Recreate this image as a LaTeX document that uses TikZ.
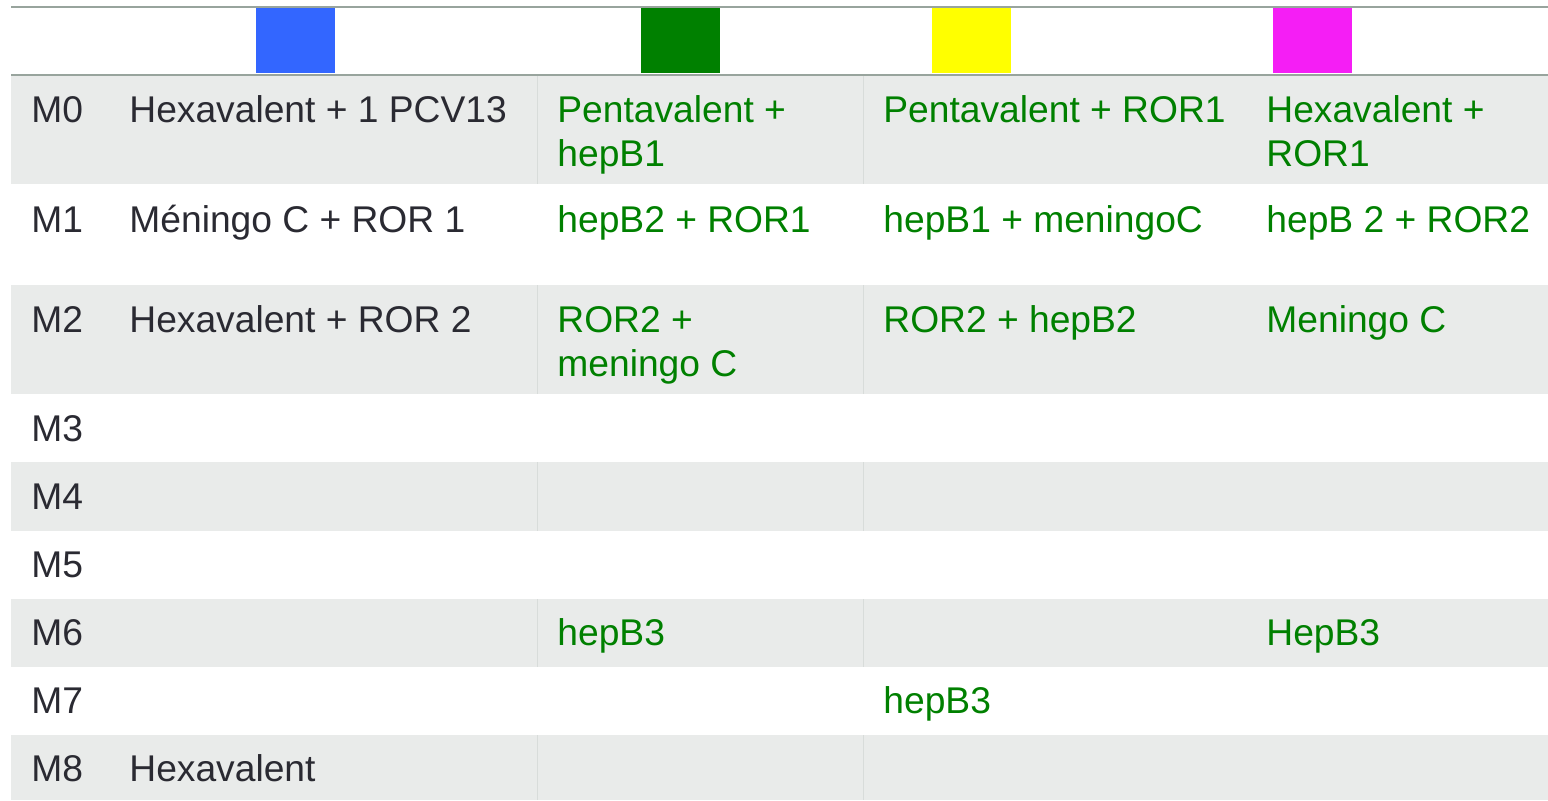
\documentclass[tikz,border=0pt]{standalone}
\usepackage{fontspec}
\setmainfont{Liberation Sans}
\definecolor{fondgris}{RGB}{233,235,234}
\definecolor{trait}{RGB}{152,164,157}
\definecolor{separ}{RGB}{216,220,218}
\definecolor{texte}{RGB}{42,42,50}
\definecolor{vert}{RGB}{0,128,0}
\definecolor{bleu}{RGB}{51,102,255}
\definecolor{jaune}{RGB}{255,255,0}
\definecolor{rose}{RGB}{245,30,245}
\begin{document}
\begin{tikzpicture}[line cap=butt,x=0.5pt,y=-0.5pt,
	txt/.style={anchor=base west,inner sep=0pt,align=left,font=\fontsize{18.6}{22}\selectfont,text=texte},
	vac/.style={txt,text=vert}]
		\useasboundingbox (0,0) rectangle (1548,800);
		
		% Lignes grises
		\fill[fondgris] (11,76) rectangle (1548,184);
		\fill[fondgris] (11,285) rectangle (1548,394);
		\fill[fondgris] (11,462) rectangle (1548,531);
		\fill[fondgris] (11,599) rectangle (1548,667);
		\fill[fondgris] (11,735) rectangle (1548,800);
		
		% Separateurs de colonnes
		\draw[separ] (537,76) -- (537,184);
		\draw[separ] (863,76) -- (863,184);
		\draw[separ] (537,285) -- (537,394);
		\draw[separ] (863,285) -- (863,394);
		\draw[separ] (537,462) -- (537,531);
		\draw[separ] (863,462) -- (863,531);
		\draw[separ] (537,599) -- (537,667);
		\draw[separ] (863,599) -- (863,667);
		\draw[separ] (537,735) -- (537,800);
		\draw[separ] (863,735) -- (863,800);
		
		% En-tete
		\draw[trait,line width=1.3pt] (11,7) -- (1548,7);
		\draw[trait,line width=1.3pt] (11,75) -- (1548,75);
		\fill[bleu] (256,8) rectangle (335,73);
		\fill[vert] (641,8) rectangle (720,73);
		\fill[jaune] (932,8) rectangle (1011,73);
		\fill[rose] (1273,8) rectangle (1352,73);
		
		% Mois
		\node[txt] (m0) at (31,122) {M0};
		\node[txt] (m1) at (31,232) {M1};
		\node[txt] (m2) at (31,332) {M2};
		\node[txt] (m3) at (31,441) {M3};
		\node[txt] (m4) at (31,509) {M4};
		\node[txt] (m5) at (31,577) {M5};
		\node[txt] (m6) at (31,645) {M6};
		\node[txt] (m7) at (31,713) {M7};
		\node[txt] (m8) at (31,781) {M8};
		
		% Premiere colonne
		\node[txt] (m0a) at (129,122) {Hexavalent + 1 PCV13};
		\node[txt] (m1a) at (129,232) {Méningo C + ROR 1};
		\node[txt] (m2a) at (129,332) {Hexavalent + ROR 2};
		\node[txt] (m8a) at (129,781) {Hexavalent};
		
		% Colonnes en vert (base = derniere ligne)
		\node[vac] (m0b) at (557,166) {Pentavalent +\\hepB1};
		\node[vac] (m0c) at (883,122) {Pentavalent + ROR1};
		\node[vac] (m0d) at (1266,166) {Hexavalent +\\ROR1};
		\node[vac] (m1b) at (557,232) {hepB2 + ROR1};
		\node[vac] (m1c) at (883,232) {hepB1 + meningoC};
		\node[vac] (m1d) at (1266,232) {hepB 2 + ROR2};
		\node[vac] (m2b) at (557,376) {ROR2 +\\meningo C};
		\node[vac] (m2c) at (883,332) {ROR2 + hepB2};
		\node[vac] (m2d) at (1266,332) {Meningo C};
		\node[vac] (m6b) at (557,645) {hepB3};
		\node[vac] (m6d) at (1266,645) {HepB3};
		\node[vac] (m7c) at (883,713) {hepB3};
	\end{tikzpicture}
\end{document}
